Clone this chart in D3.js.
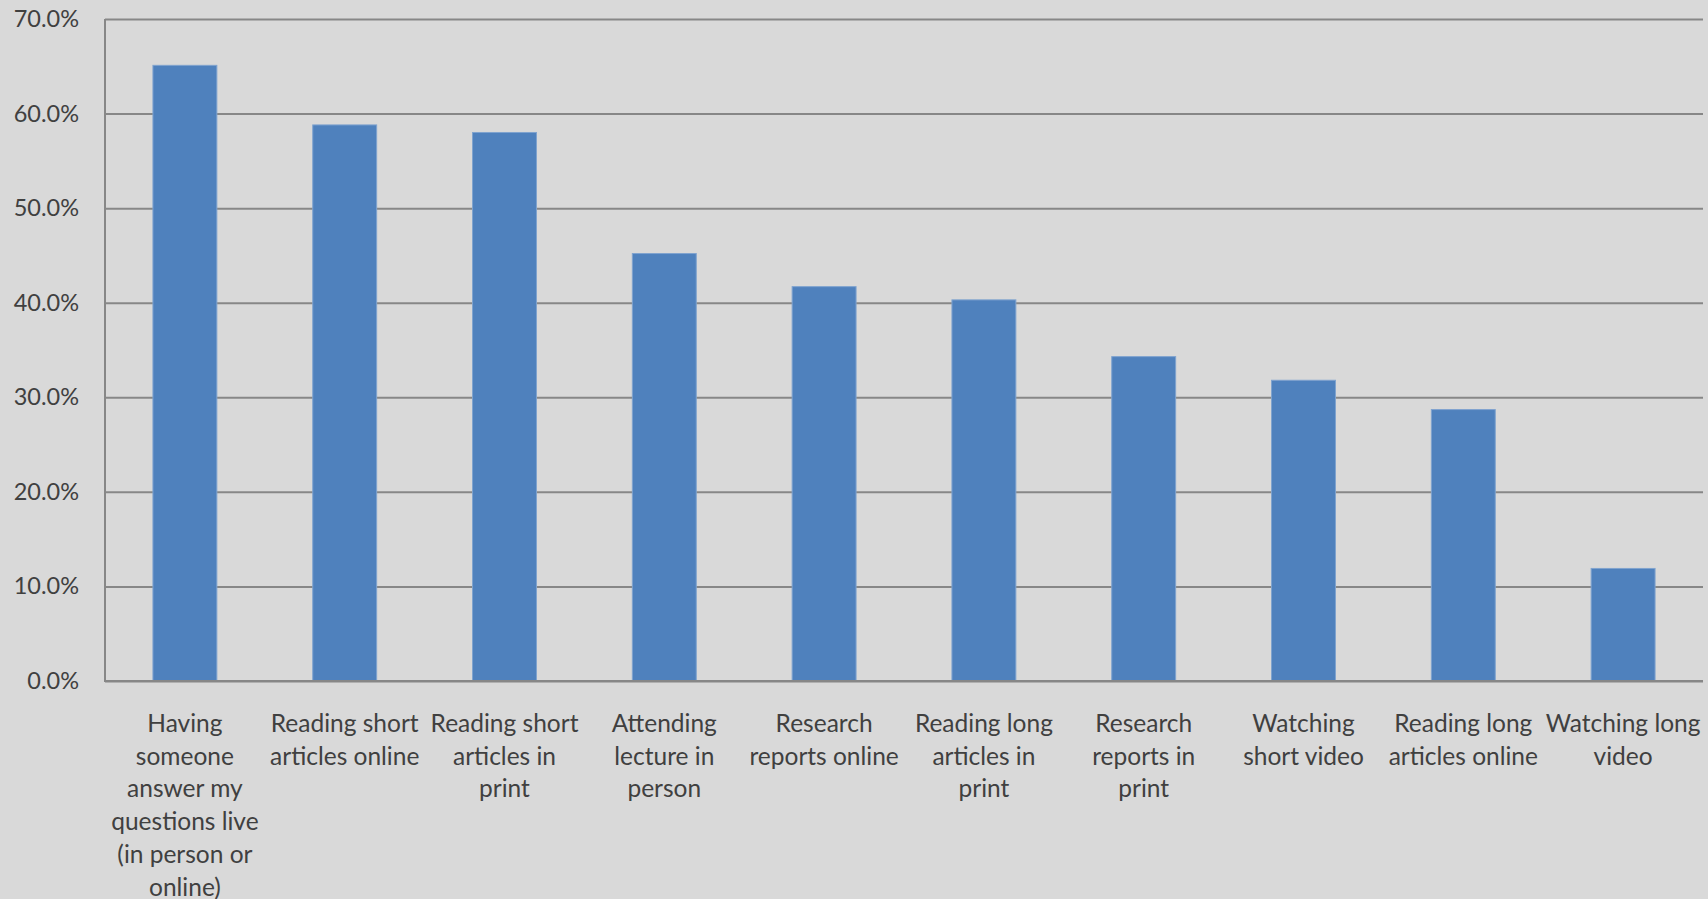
<!DOCTYPE html>
<html>
<head>
<meta charset="utf-8">
<script src="https://cdn.jsdelivr.net/npm/d3@7"></script>
<style>
html,body{margin:0;padding:0;background:#d9d9d9;}
svg{display:block;}
</style>
</head>
<body>
<svg id="chart" width="1708" height="899"></svg>
<script>
const categories = [
  ["Having","someone","answer my","questions live","(in person or","online)"],
  ["Reading short","articles online"],
  ["Reading short","articles in","print"],
  ["Attending","lecture in","person"],
  ["Research","reports online"],
  ["Reading long","articles in","print"],
  ["Research","reports in","print"],
  ["Watching","short video"],
  ["Reading long","articles online"],
  ["Watching long","video"]
];
const values = [0.651, 0.588, 0.580, 0.452, 0.417, 0.403, 0.343, 0.318, 0.287, 0.119];
const yTicks = [0, 0.1, 0.2, 0.3, 0.4, 0.5, 0.6, 0.7];

const W = 1708, H = 899;
const m = {left: 105, right: 5, top: 19, bottom: 218};
const svg = d3.select("#chart");
svg.append("rect").attr("width", W).attr("height", H).attr("fill", "#d9d9d9");

const ids = categories.map((c, i) => i);
const x = d3.scaleBand().domain(ids).range([m.left, W - m.right]).paddingInner(0.6).paddingOuter(0.3);
const y = d3.scaleLinear().domain([0, 0.7]).range([H - m.bottom, m.top]);

const font = "Lato, 'Open Sans', sans-serif";

// gridlines
const grid = svg.append("g")
  .attr("transform", `translate(${m.left},0)`)
  .call(d3.axisLeft(y).tickValues(yTicks).tickSize(-(W - m.right - m.left)).tickFormat(""));
grid.select(".domain").remove();
grid.selectAll("line").attr("stroke", "#878787").attr("stroke-width", 2);

// bars
svg.append("g").selectAll("rect").data(values).join("rect")
  .attr("x", (d, i) => x(i))
  .attr("y", d => y(d))
  .attr("width", x.bandwidth())
  .attr("height", d => y(0) - y(d))
  .attr("fill", "#4f81bd")
  .attr("stroke", "#7fa3cf")
  .attr("stroke-width", 1);

// y axis labels
const yAxis = svg.append("g")
  .attr("transform", `translate(${m.left},0)`)
  .call(d3.axisLeft(y).tickValues(yTicks).tickSize(0).tickPadding(26).tickFormat(d3.format(".1%")));
yAxis.select(".domain").remove();
yAxis.selectAll("text").attr("font-family", font).attr("font-size", 23.5).attr("fill", "#404040");

// axis lines
svg.append("line").attr("x1", m.left).attr("x2", m.left).attr("y1", y(0.7)).attr("y2", y(0) + 1)
  .attr("stroke", "#878787").attr("stroke-width", 2);
svg.append("line").attr("x1", m.left).attr("x2", W - m.right).attr("y1", y(0)).attr("y2", y(0))
  .attr("stroke", "#878787").attr("stroke-width", 2);

// x axis labels
const xAxis = svg.append("g")
  .attr("transform", `translate(0,${y(0)})`)
  .call(d3.axisBottom(x).tickSize(0).tickFormat(""));
xAxis.select(".domain").remove();
xAxis.selectAll(".tick").each(function(d) {
  const t = d3.select(this).append("text")
    .attr("text-anchor", "middle")
    .attr("font-family", font).attr("font-size", 24.5).attr("fill", "#404040")
    .attr("y", 51);
  categories[d].forEach((line, k) => {
    t.append("tspan").attr("x", 0).attr("dy", k === 0 ? 0 : 32.7).text(line);
  });
});
</script>
</body>
</html>
